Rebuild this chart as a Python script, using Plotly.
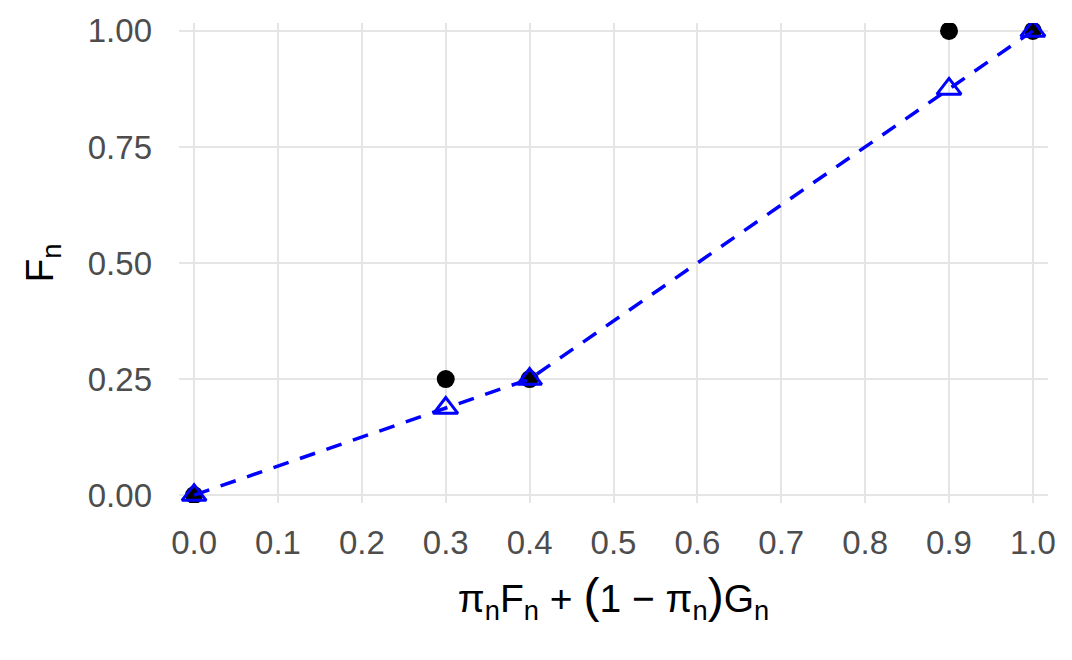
import plotly.graph_objects as go

x_vals = [0.0, 0.3, 0.4, 0.9, 1.0]
f_vals = [0.0, 0.25, 0.25, 1.0, 1.0]
mix_vals = [0.0, 0.1875, 0.25, 0.875, 1.0]
x_ticks = [0.0, 0.1, 0.2, 0.3, 0.4, 0.5, 0.6, 0.7, 0.8, 0.9, 1.0]
y_ticks = [0.0, 0.25, 0.5, 0.75, 1.0]
y_tick_labels = ["0.00", "0.25", "0.50", "0.75", "1.00"]

fig = go.Figure()
fig.add_trace(go.Scatter(x=x_vals, y=f_vals, mode="markers",
                         marker=dict(symbol="circle", size=18, color="black"),
                         showlegend=False))
fig.add_trace(go.Scatter(x=x_vals, y=mix_vals, mode="lines",
                         line=dict(color="#0000ff", width=3.5, dash="16px,12px"),
                         showlegend=False))
fig.add_trace(go.Scatter(x=x_vals, y=mix_vals, mode="markers",
                         marker=dict(symbol="triangle-up-open", size=21, color="#0000ff",
                                     line=dict(width=3, color="#0000ff")),
                         showlegend=False))

big = '<span style="font-size:48px">'
xtitle = ("π<sub>n</sub>F<sub>n</sub> + " + big + "(</span>1 − π<sub>n</sub>" + big + ")</span>G<sub>n</sub>")

fig.update_layout(
    width=1072, height=660,
    paper_bgcolor="white", plot_bgcolor="white",
    margin=dict(l=179, r=24, t=23, b=157, autoexpand=False),
    font=dict(family="Liberation Sans, Arial, sans-serif"),
)
fig.update_xaxes(range=[-0.018, 1.018], tickvals=x_ticks,
                 ticktext=[f"{v:.1f}" for v in x_ticks],
                 showgrid=True, gridcolor="#e5e5e5", gridwidth=2,
                 zeroline=False, showline=False, ticks="", automargin=False,
                 tickfont=dict(size=33, color="#4d4d4d"), ticklabelstandoff=17,
                 title=dict(text=xtitle, font=dict(size=39, color="black"), standoff=24))
fig.update_yaxes(range=[-0.017, 1.017], tickvals=y_ticks, ticktext=y_tick_labels,
                 showgrid=True, gridcolor="#e5e5e5", gridwidth=2,
                 zeroline=False, showline=False, ticks="", automargin=False,
                 tickfont=dict(size=33, color="#4d4d4d"), ticklabelstandoff=26,
                 title=dict(text="F<sub>n</sub>", font=dict(size=39, color="black"), standoff=22))

fig.write_html("out.html", config={"displayModeBar": False},
               post_script="document.body.style.margin='0';")
